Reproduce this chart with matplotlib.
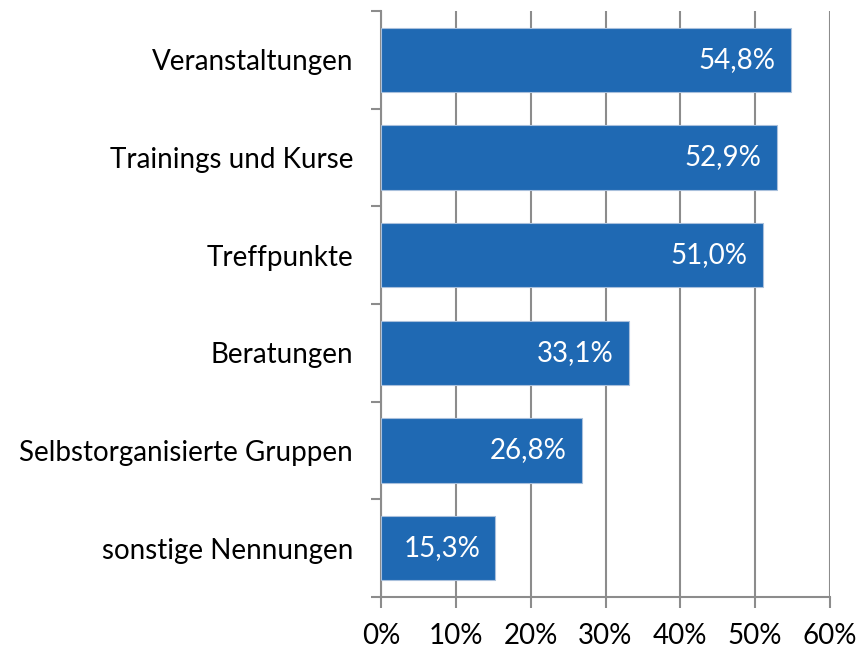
import matplotlib.pyplot as plt

categories = ['Veranstaltungen', 'Trainings und Kurse', 'Treffpunkte', 'Beratungen',
              'Selbstorganisierte Gruppen', 'sonstige Nennungen']
values = [54.8, 52.9, 51.0, 33.1, 26.8, 15.3]
xticks = [0, 10, 20, 30, 40, 50, 60]

plt.rcParams['font.family'] = ['Lato', 'DejaVu Sans']

fig = plt.figure(figsize=(8.63, 6.49), dpi=100)
ax = fig.add_axes([381 / 863, 52 / 649, 449 / 863, 586 / 649])

gray = '#8c8c8c'
y = list(range(len(categories)))[::-1]

ax.barh(y, values, height=0.66, color='#1F69B3', edgecolor='#a9c0dc', linewidth=0.8, zorder=3)

# value labels inside bar ends
for yi, v in zip(y, values):
    ax.annotate(f'{v:.1f}%'.replace('.', ','), xy=(v, yi), xytext=(-11, 0),
                textcoords='offset points', ha='right', va='center',
                color='white', fontsize=20, zorder=4)

ax.set_xlim(0, 60)
ax.set_ylim(-0.5, len(categories) - 0.5)
ax.set_xticks(xticks)
ax.set_xticklabels([f'{t}%' for t in xticks], fontsize=20)

# category labels centered, tick marks at boundaries
ax.set_yticks(y)
ax.set_yticklabels(categories, fontsize=20)
ax.tick_params(axis='y', which='major', length=0, pad=20)
ax.set_yticks([i - 0.5 for i in range(len(categories) + 1)], minor=True)
ax.tick_params(axis='y', which='minor', length=7, width=1.5, color=gray)
ax.tick_params(axis='x', length=8, width=1.5, color=gray, pad=11)

ax.grid(axis='x', color=gray, linewidth=1.5, zorder=0)
for s in ['top', 'right']:
    ax.spines[s].set_visible(False)
for s in ['left', 'bottom']:
    ax.spines[s].set_color(gray)
    ax.spines[s].set_linewidth(1.5)

fig.savefig('out.png', dpi=100)
